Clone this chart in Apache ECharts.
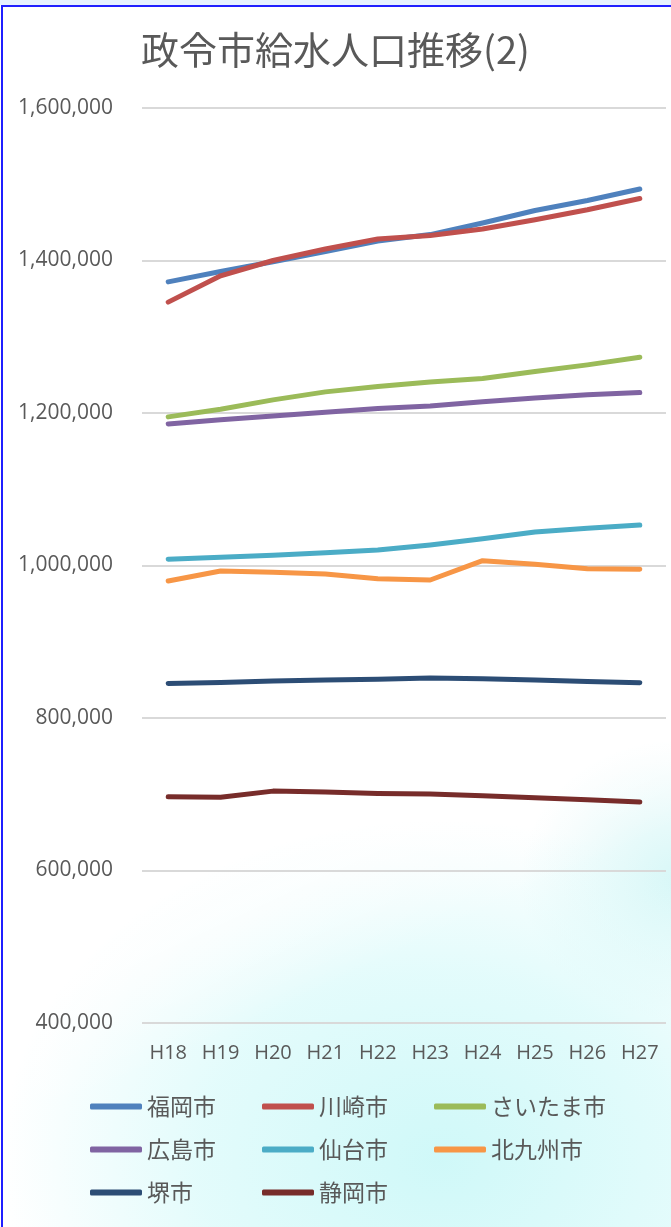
<!DOCTYPE html>
<html>
<head>
<meta charset="utf-8">
<script src="https://cdn.jsdelivr.net/npm/echarts@6/dist/echarts.min.js"></script>
<style>
  html, body { margin: 0; padding: 0; background: #ffffff; }
  #wrap {
    position: relative; width: 671px; height: 1227px; overflow: hidden;
    background:
      linear-gradient(155deg, rgba(255,255,255,0) 0%, rgba(255,255,255,0) 58%, rgba(255,255,255,0.55) 66%, rgba(255,255,255,0) 74%),
      radial-gradient(ellipse 440px 340px at 440px 1160px, rgba(205,248,248,0.95) 0%, rgba(215,250,250,0.7) 55%, rgba(255,255,255,0) 100%),
      radial-gradient(ellipse 160px 140px at 680px 880px, rgba(205,245,245,0.8) 0%, rgba(255,255,255,0) 100%),
      #ffffff;
  }
  #topband { position: absolute; left: 0; top: 0; width: 671px; height: 5px; background: #e6f1ff; }
  #frame {
    position: absolute; left: 1px; top: 5px; width: 700px; height: 1300px;
    border-left: 2px solid #1f1fff; border-top: 2px solid #1f1fff; box-sizing: border-box;
  }
  #chart { position: absolute; left: 0; top: 0; width: 671px; height: 1227px; }
</style>
</head>
<body>
<div id="wrap">
  <div id="topband"></div>
  <div id="frame"></div>
  <div id="chart"></div>
</div>
<script>
// 年度（平成）
const categories = ['H18', 'H19', 'H20', 'H21', 'H22', 'H23', 'H24', 'H25', 'H26', 'H27'];

// 給水人口（人）
const fukuoka    = [1372000, 1385600, 1398300, 1411800, 1425500, 1434000, 1449100, 1465600, 1478700, 1493700];
const kawasaki   = [1345400, 1379900, 1400000, 1415000, 1428100, 1432800, 1441200, 1453400, 1466500, 1481400];
const saitama    = [1194900, 1205000, 1217200, 1227700, 1234700, 1240800, 1245200, 1254300, 1263100, 1273200];
const hiroshima  = [1185700, 1191000, 1196200, 1201100, 1205800, 1209300, 1214600, 1219800, 1223800, 1226800];
const sendai     = [1008200, 1010800, 1013400, 1016800, 1020400, 1027000, 1035000, 1044000, 1049000, 1053000];
const kitakyushu = [979700, 992800, 991100, 988900, 982700, 981000, 1006300, 1001600, 995800, 995000];
const sakai      = [845400, 846700, 848400, 849800, 850700, 852500, 851500, 849800, 848000, 846200];
const shizuoka   = [696600, 696000, 704100, 702800, 701100, 700200, 697900, 695300, 692700, 689700];

const cityNames = ['福岡市', '川崎市', 'さいたま市', '広島市', '仙台市', '北九州市', '堺市', '静岡市'];
const cityData = [fukuoka, kawasaki, saitama, hiroshima, sendai, kitakyushu, sakai, shizuoka];
const cityColors = ['#4f81bd', '#c0504d', '#9bbb59', '#8064a2', '#4bacc6', '#f79646', '#2c4d75', '#772c2a'];

// Y軸の範囲と目盛
const yMin = 400000;
const yMax = 1600000;
const yStep = 200000;

const textColor = '#595959';
const jpFont = "'Noto Sans CJK JP', sans-serif";
const numFont = "'Open Sans', sans-serif";

const chart = echarts.init(document.getElementById('chart'), null, { renderer: 'canvas' });

chart.setOption({
  backgroundColor: 'transparent',
  animation: false,
  color: cityColors,
  title: {
    text: '政令市給水人口推移(2)',
    left: 'center',
    top: 26,
    textStyle: { fontFamily: jpFont, fontSize: 38, fontWeight: 'normal', color: textColor }
  },
  grid: { left: 142, right: 5, top: 108, bottom: 204, containLabel: false },
  xAxis: {
    type: 'category',
    data: categories,
    boundaryGap: true,
    axisLine: { show: false },
    axisTick: { show: false },
    axisLabel: { color: textColor, fontFamily: numFont, fontSize: 20, margin: 20 }
  },
  yAxis: {
    type: 'value',
    min: yMin,
    max: yMax,
    interval: yStep,
    axisLine: { show: false },
    axisTick: { show: false },
    splitLine: { lineStyle: { color: '#d9d9d9', width: 2 } },
    axisLabel: {
      color: textColor, fontFamily: numFont, fontSize: 21, margin: 29,
      formatter: v => v.toLocaleString('en-US')
    }
  },
  legend: {
    data: cityNames,
    left: 85,
    top: 1088,
    width: 530,
    itemWidth: 52,
    itemHeight: 6,
    itemGap: 16,
    icon: 'roundRect',
    textStyle: { fontFamily: jpFont, fontSize: 23, color: textColor, width: 99, lineHeight: 27 }
  },
  series: cityNames.map((name, i) => ({
    name: name,
    type: 'line',
    data: cityData[i],
    symbol: 'none',
    smooth: false,
    lineStyle: { width: 5, color: cityColors[i], cap: 'round', join: 'round' },
    itemStyle: { color: cityColors[i] }
  }))
});
</script>
</body>
</html>
